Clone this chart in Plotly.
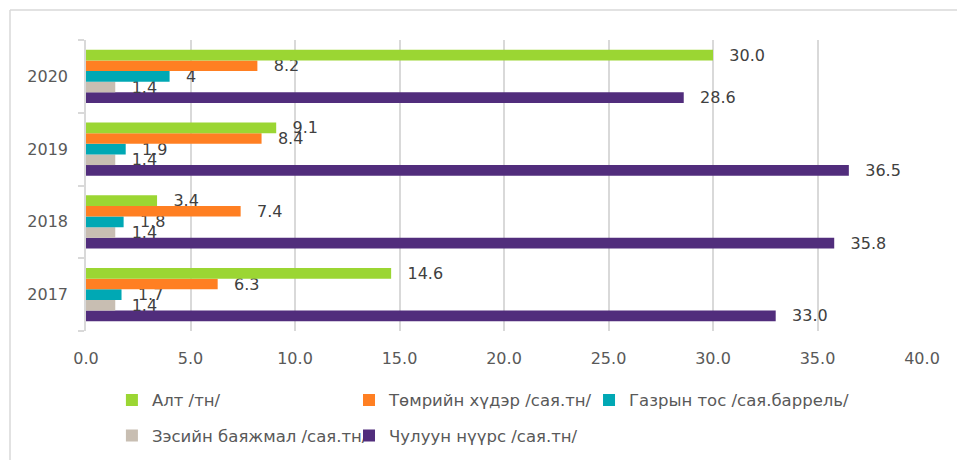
import plotly.graph_objects as go

years = ["2017", "2018", "2019", "2020"]

# one list per product
alt = [14.6, 3.4, 9.1, 30.0]
tumriin = [6.3, 7.4, 8.4, 8.2]
gazryn_tos = [1.7, 1.8, 1.9, 4]
zesiin = [1.4, 1.4, 1.4, 1.4]
nuurs = [33.0, 35.8, 36.5, 28.6]

alt_txt = ["14.6", "3.4", "9.1", "30.0"]
tumriin_txt = ["6.3", "7.4", "8.4", "8.2"]
gazryn_tos_txt = ["1.7", "1.8", "1.9", "4"]
zesiin_txt = ["1.4", "1.4", "1.4", "1.4"]
nuurs_txt = ["33.0", "35.8", "36.5", "28.6"]

x_ticks = [0, 5, 10, 15, 20, 25, 30, 35, 40]

grid = "#D9D9D9"
tick_font = dict(family="DejaVu Sans, Liberation Sans, Arial", size=16, color="#595959")
label_font = dict(family="DejaVu Sans, Liberation Sans, Arial", size=16, color="#404040")
legend_font = dict(family="DejaVu Sans, Liberation Sans, Arial", size=16.5, color="#595959")

# plotly draws the first trace at the bottom of each group, so add in reverse
# (name, values, labels, colour, legend box, rank in legend)
series = [
    ("Чулуун нүүрс /сая.тн/", nuurs, nuurs_txt, "#512D7C", "legend2", 5),
    ("Зэсийн баяжмал /сая.тн/", zesiin, zesiin_txt, "#C8BEB2", "legend", 4),
    ("Газрын тос /сая.баррель/", gazryn_tos, gazryn_tos_txt, "#00A8B4", "legend3", 3),
    ("Төмрийн хүдэр /сая.тн/", tumriin, tumriin_txt, "#FF7F22", "legend2", 2),
    ("Алт /тн/", alt, alt_txt, "#9BD633", "legend", 1),
]

pad = "\u00a0\u00a0\u2009"

fig = go.Figure()
for name, vals, txt, color, leg, rank in series:
    fig.add_trace(go.Bar(
        y=years, x=vals, name=name, orientation="h",
        marker=dict(color=color, line=dict(width=0)),
        text=[pad + t for t in txt],
        textposition="outside", textfont=label_font,
        constraintext="none", cliponaxis=False,
        legend=leg, legendgroup=name, legendrank=rank,
        hoverinfo="x+name",
    ))

leg_common = dict(orientation="v", xanchor="left", yanchor="top",
                  font=legend_font, traceorder="grouped",
                  tracegroupgap=11, itemwidth=30, bgcolor="rgba(0,0,0,0)")

fig.update_layout(
    width=957, height=460,
    margin=dict(l=86, r=35, t=40, b=129, autoexpand=False),
    paper_bgcolor="white", plot_bgcolor="white",
    barmode="group", bargap=0.27, bargroupgap=0,
    showlegend=True,
    legend=dict(x=0.031, y=-0.178, **leg_common),
    legend2=dict(x=0.3146, y=-0.178, **leg_common),
    legend3=dict(x=0.6017, y=-0.178, **leg_common),
    xaxis=dict(
        range=[0, 40], tickvals=x_ticks, tickformat=".1f",
        showgrid=True, gridcolor=grid, gridwidth=1.5,
        zeroline=False, showline=False, ticks="",
        tickfont=tick_font, ticklabelstandoff=16,
    ),
    yaxis=dict(
        type="category", categoryorder="array", categoryarray=years,
        showline=True, linecolor=grid, linewidth=1.5,
        ticks="outside", tickson="boundaries", ticklen=6,
        tickcolor=grid, tickwidth=1.5,
        showgrid=False, tickfont=tick_font, ticklabelstandoff=13,
    ),
    shapes=[
        dict(type="line", xref="paper", yref="paper",
             x0=-0.0909, x1=1.1, y0=1.103, y1=1.103,
             line=dict(color=grid, width=1.5)),
        dict(type="line", xref="paper", yref="paper",
             x0=-0.0909, x1=-0.0909, y0=1.103, y1=-0.5,
             line=dict(color=grid, width=1.5)),
    ],
)

# the page would otherwise sit 8px in from the browser's default body margin
fig.write_html("out.html", config={"displayModeBar": False},
               post_script="document.body.style.margin='0';")
